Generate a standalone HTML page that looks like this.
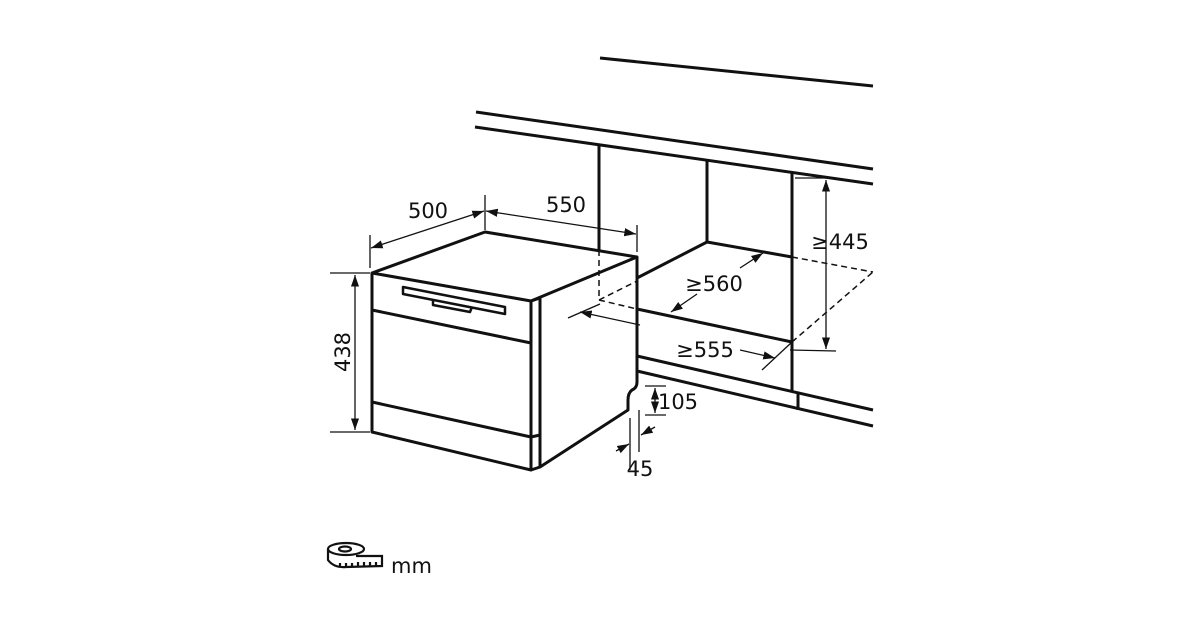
<!DOCTYPE html>
<html><head><style>body{margin:0;background:#fff}svg{display:block}text{font-family:"DejaVu Sans","Liberation Sans",sans-serif;fill:#111}</style></head><body>
<svg width="1200" height="630" viewBox="0 0 1200 630" xmlns="http://www.w3.org/2000/svg">
<defs><marker id="a" viewBox="0 0 10 10" refX="10" refY="5" markerWidth="9" markerHeight="9" orient="auto-start-reverse"><path d="M0,1.5L10,5L0,8.5z" fill="#111"/></marker></defs>
<g stroke="#111" stroke-width="3" fill="none" stroke-linejoin="round">
<line x1="600" y1="58" x2="873" y2="86"/>
<line x1="476" y1="112" x2="873" y2="169"/>
<line x1="475" y1="127" x2="873" y2="184"/>
<line x1="599" y1="145" x2="599" y2="250"/>
<line x1="707" y1="161" x2="707" y2="242"/>
<line x1="792" y1="173" x2="792" y2="392"/>
<line x1="707" y1="242" x2="792" y2="257"/>
<line x1="707" y1="242" x2="637" y2="278"/>
<line x1="637" y1="309" x2="792" y2="342"/>
<line x1="637" y1="356" x2="873" y2="410"/>
<line x1="637" y1="371" x2="873" y2="426"/>
<line x1="798" y1="393" x2="798" y2="410"/>
<!-- dishwasher -->
<path d="M372,273 L485,232 L637,257 L531,301 Z"/>
<path d="M372,273 L372,432 L531,470 L531,301"/>
<path d="M531,301 L540,298 L540,467"/>
<path d="M637,257 L637,382 Q637,388 632,390 Q628,393 628,400 L628,410 L540,467 L531,470"/>
<line x1="372" y1="310" x2="531" y2="343"/>
<line x1="372" y1="402" x2="531" y2="437"/>
<line x1="531" y1="437" x2="540" y2="435"/>
<path d="M403,287 L505,307 L505,314 L403,294 Z" stroke-width="2.5"/>
<path d="M433,300 L433,305 L470,312 L472,307" stroke-width="2.5"/>
</g>
<g stroke="#111" stroke-width="1.5" fill="none" stroke-dasharray="6,4">
<line x1="599" y1="250" x2="599" y2="300"/>
<line x1="599" y1="300" x2="637" y2="281"/>
<line x1="599" y1="300" x2="637" y2="309"/>
<line x1="792" y1="257" x2="873" y2="272"/>
<line x1="792" y1="342" x2="873" y2="272"/>
</g>
<g stroke="#111" stroke-width="1.3" fill="none">
<line x1="330" y1="273" x2="370" y2="273"/><line x1="330" y1="432" x2="370" y2="432"/>
<line x1="355" y1="275" x2="355" y2="430" marker-start="url(#a)" marker-end="url(#a)"/>
<line x1="370" y1="235" x2="370" y2="268"/><line x1="485" y1="195" x2="485" y2="230"/><line x1="637" y1="225" x2="637" y2="252"/>
<line x1="371" y1="248" x2="484" y2="211" marker-start="url(#a)" marker-end="url(#a)"/>
<line x1="486" y1="211" x2="636" y2="234" marker-start="url(#a)" marker-end="url(#a)"/>
<line x1="795" y1="178" x2="836" y2="178"/><line x1="790" y1="350" x2="836" y2="351"/>
<line x1="826" y1="180" x2="826" y2="349" marker-start="url(#a)" marker-end="url(#a)"/>
<line x1="740" y1="268" x2="763" y2="253" marker-end="url(#a)"/>
<line x1="697" y1="294" x2="671" y2="312" marker-end="url(#a)"/>
<line x1="568" y1="318" x2="600" y2="304"/>
<line x1="762" y1="370" x2="792" y2="342"/>
<line x1="640" y1="325" x2="580" y2="312" marker-end="url(#a)"/>
<line x1="740" y1="350" x2="775" y2="358" marker-end="url(#a)"/>
<line x1="645" y1="386" x2="666" y2="386"/><line x1="645" y1="415" x2="666" y2="415"/>
<line x1="655" y1="388" x2="655" y2="413" marker-start="url(#a)" marker-end="url(#a)"/>
<line x1="630" y1="418" x2="630" y2="470"/><line x1="639" y1="410" x2="639" y2="452"/>
<line x1="616" y1="451" x2="629" y2="444" marker-end="url(#a)"/>
<line x1="655" y1="427" x2="641" y2="435" marker-end="url(#a)"/>
</g>
<text x="428" y="218" font-size="21" text-anchor="middle">500</text>
<text x="566" y="212" font-size="21" text-anchor="middle">550</text>
<text x="350" y="352" font-size="21" text-anchor="middle" transform="rotate(-90 350 352)">438</text>
<text x="840" y="249" font-size="21" text-anchor="middle">≥445</text>
<text x="714" y="291" font-size="21" text-anchor="middle">≥560</text>
<text x="705" y="357" font-size="21" text-anchor="middle">≥555</text>
<text x="678" y="409" font-size="21" text-anchor="middle">105</text>
<text x="640" y="476" font-size="21" text-anchor="middle">45</text>
<g stroke="#111" stroke-width="2.2" fill="none">
<ellipse cx="346" cy="549" rx="18" ry="6"/>
<ellipse cx="345" cy="549" rx="6" ry="2.5"/>
<path d="M328,549 L328,560 Q334,568 346,567 L382,566 L382,556 L356,556"/>
<path d="M340,567 v-4 M346,567 v-4 M352,567 v-4 M358,566 v-4 M364,566 v-4 M370,566 v-4 M376,566 v-4"/>
</g>
<text x="391" y="573" font-size="21">mm</text>
</svg>
</body></html>
